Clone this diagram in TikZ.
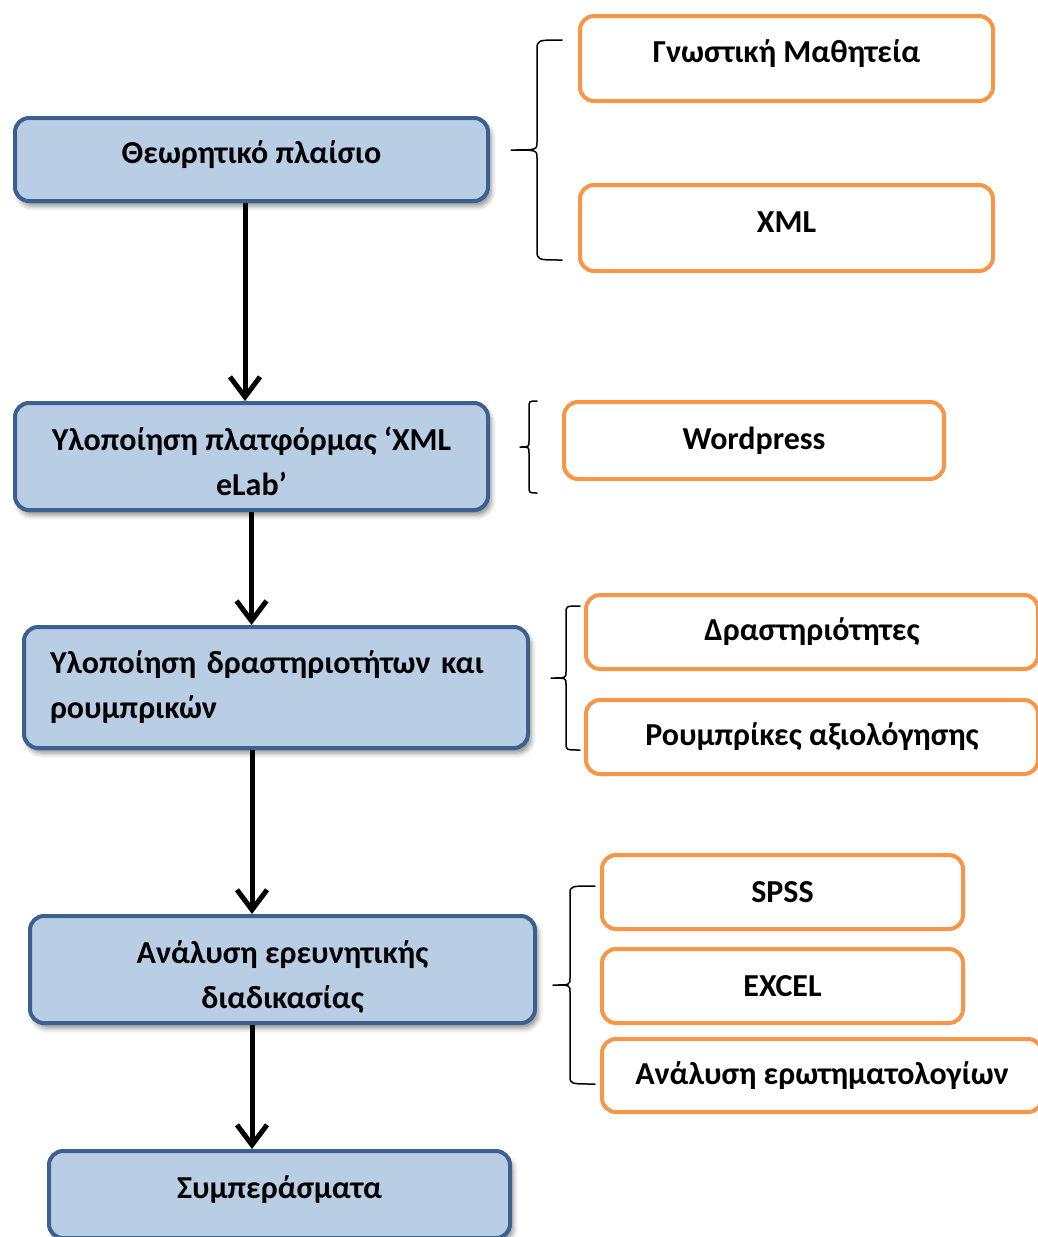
\documentclass[tikz,border=0pt]{standalone}
\usepackage{fontspec}
\setmainfont{Carlito}
\usetikzlibrary{arrows.meta,shadows.blur}
\definecolor{stepfill}{HTML}{B9CDE5}
\definecolor{stepline}{HTML}{3C6190}
\definecolor{toolline}{HTML}{F79646}
\tikzset{
  boxfont/.style={font=\fontsize{32}{45}\selectfont\bfseries},
  stepbox/.style={boxfont, draw=stepline, fill=stepfill, line width=4pt,
    rounded corners=14pt, inner sep=0pt, align=center,
    blur shadow={shadow xshift=3pt, shadow yshift=-5pt,
      shadow blur radius=5pt, shadow opacity=45}},
  toolbox/.style={boxfont, draw=toolline, fill=white, line width=4pt,
    rounded corners=14pt, inner sep=0pt, align=center},
  oneline/.style={text height=24pt, text depth=16pt},
  twolines/.style={text height=86pt, text depth=8pt},
  flow/.style={line width=5pt, -{Straight Barb[length=20pt,width=30pt]}},
  bracket/.style={line width=1.5pt, line cap=round, line join=round},
}
\begin{document}
\begin{tikzpicture}[x=1pt, y=1pt]
\useasboundingbox (0,0) rectangle (1038,-1237);
\clip (0,0) rectangle (1038,-1237);

% main stages
\node[stepbox, oneline, minimum width=473pt, minimum height=83pt] (b1) at (251.5,-159.5)
  {Θεωρητικό πλαίσιο};
\node[stepbox, twolines, minimum width=473pt, minimum height=107pt] (b2) at (251.5,-456.5)
  {Υλοποίηση πλατφόρμας ‘XML\\eLab’};
\node[stepbox, minimum width=504pt, minimum height=121pt, text width=452pt, align=left]
  (b3) at (276,-687.5) {Υλοποίηση δραστηριοτήτων και\\ρουμπρικών};
\node[stepbox, twolines, minimum width=505pt, minimum height=107pt] (b4) at (282.5,-969.5)
  {Ανάλυση ερευνητικής\\διαδικασίας};
\node[stepbox, oneline, minimum width=461pt, minimum height=87pt] (b5) at (279.5,-1194.5)
  {Συμπεράσματα};

% supporting items
\node[toolbox, oneline, minimum width=413pt, minimum height=85pt] (o1) at (786.5,-58.5)
  {Γνωστική Μαθητεία};
\node[toolbox, oneline, minimum width=413pt, minimum height=86pt] (o2) at (786.5,-228)
  {XML};
\node[toolbox, minimum width=380pt, minimum height=77pt] (o3) at (754,-440.5)
  {Wordpress};
\node[toolbox, minimum width=452pt, minimum height=74pt] (o4) at (812,-632)
  {Δραστηριότητες};
\node[toolbox, minimum width=452pt, minimum height=74pt] (o5) at (812,-737)
  {Ρουμπρίκες αξιολόγησης};
\node[toolbox, minimum width=361pt, minimum height=74pt] (o6) at (782.5,-892)
  {SPSS};
\node[toolbox, minimum width=361pt, minimum height=74pt] (o7) at (782.5,-986)
  {EXCEL};
\node[toolbox, minimum width=440pt, minimum height=73pt] (o8) at (822,-1075.5)
  {Ανάλυση ερωτηματολογίων};

% flow arrows
\draw[flow] ([xshift=-6.5pt]b1.south) -- ([xshift=-6.5pt]b1.south |- b2.north);
\draw[flow] (b2.south) -- (b2.south |- b3.north);
\draw[flow] ([xshift=-24pt]b3.south) -- ([xshift=-24pt]b3.south |- b4.north);
\draw[flow] ([xshift=-30.5pt]b4.south) -- ([xshift=-30.5pt]b4.south |- b5.north);

% braces grouping the supporting items
\draw[bracket] (562,-40) .. controls (537,-40) .. (537,-50) -- (537,-142)
  .. controls (537,-150) .. (511,-150) .. controls (537,-150) .. (537,-158)
  -- (537,-250) .. controls (537,-260) .. (562,-260);
\draw[bracket] (537,-401) .. controls (529,-401) .. (529,-408) -- (529,-441)
  .. controls (529,-447) .. (520,-447) .. controls (529,-447) .. (529,-453)
  -- (529,-486) .. controls (529,-493) .. (537,-493);
\draw[bracket] (580,-606) .. controls (566,-606) .. (566,-613) -- (566,-672)
  .. controls (566,-678) .. (551,-678) .. controls (566,-678) .. (566,-684)
  -- (566,-743) .. controls (566,-750) .. (580,-750);
\draw[bracket] (595,-886) .. controls (570,-886) .. (570,-894) -- (570,-978)
  .. controls (570,-985) .. (553,-985) .. controls (570,-985) .. (570,-992)
  -- (570,-1076) .. controls (570,-1084) .. (595,-1084);
\end{tikzpicture}
\end{document}
